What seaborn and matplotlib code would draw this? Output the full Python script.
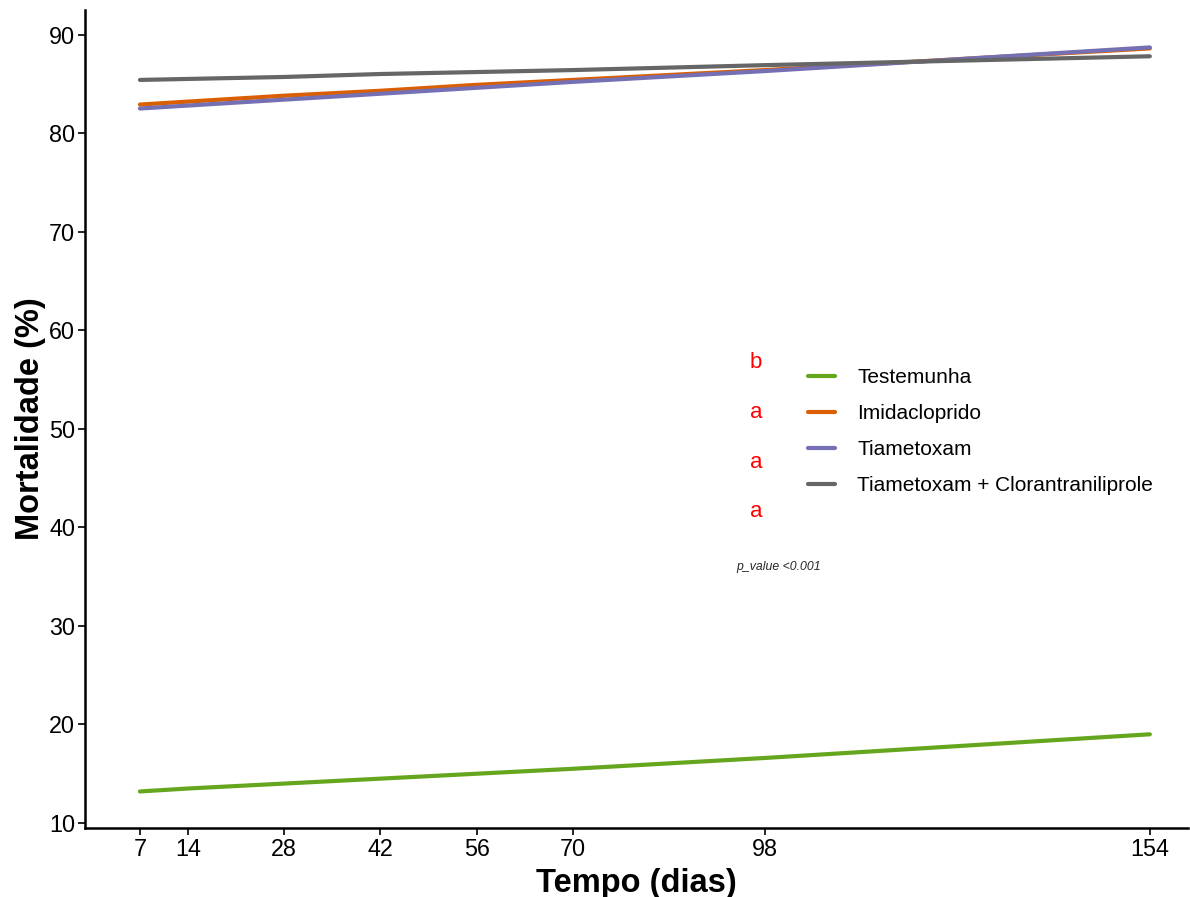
import numpy as np
import pandas as pd
import matplotlib
matplotlib.use("Agg")
import matplotlib.pyplot as plt
import seaborn as sns

# ---- data ----
dias = [7, 14, 28, 42, 56, 70, 98, 154]
tratamentos = ["Testemunha", "Imidacloprido", "Tiametoxam", "Tiametoxam + Clorantraniliprole"]
testemunha = [13.2, 13.5, 14.0, 14.5, 15.0, 15.5, 16.6, 19.0]
imidacloprido = [82.9, 83.2, 83.8, 84.3, 84.9, 85.4, 86.4, 88.6]
tiametoxam = [82.5, 82.8, 83.4, 84.0, 84.6, 85.2, 86.3, 88.7]
tiam_clor = [85.4, 85.5, 85.7, 86.0, 86.2, 86.4, 86.9, 87.8]
letras = ["b", "a", "a", "a"]
letras_y = [56.7, 51.7, 46.6, 41.6]
letras_x = 96.7
p_text = "p_value <0.001"
cores = ["#66A61E", "#D95F02", "#7570B3", "#666666"]
yticks = [10, 20, 30, 40, 50, 60, 70, 80, 90]

series = [testemunha, imidacloprido, tiametoxam, tiam_clor]
df = pd.DataFrame({
    "Tempo": dias * 4,
    "Mortalidade": [v for s in series for v in s],
    "Tratamento": [t for t in tratamentos for _ in dias],
})

sns.set_style("white")
plt.rcParams["font.family"] = ["Liberation Sans", "DejaVu Sans"]

fig = plt.figure(figsize=(11.9, 8.97), dpi=100)
ax = fig.add_axes([0.0714, 0.0769, 0.9266, 0.912])

sns.lineplot(data=df, x="Tempo", y="Mortalidade", hue="Tratamento",
             hue_order=tratamentos, palette=cores, linewidth=3, ax=ax)

ax.set_xlim(-1.0, 159.5)
ax.set_ylim(9.49, 92.5)
ax.set_xticks(dias)
ax.set_xticklabels([str(d) for d in dias])
ax.set_yticks(yticks)
ax.tick_params(axis="both", labelsize=16.8, colors="black", labelcolor="black",
               length=5, width=1.2, direction="out", bottom=True, left=True, pad=2)
for s in ["top", "right"]:
    ax.spines[s].set_visible(False)
for s in ["left", "bottom"]:
    ax.spines[s].set_color("black")
    ax.spines[s].set_linewidth(1.8)

ax.set_xlabel("Tempo (dias)", fontsize=23.5, fontweight="bold", color="black", labelpad=5)
ax.set_ylabel("Mortalidade (%)", fontsize=23.5, fontweight="bold", color="black", labelpad=2)

for l, yy in zip(letras, letras_y):
    ax.text(letras_x, yy, l, color="red", fontsize=16, ha="center", va="center")
ax.text(100, 36, p_text, fontsize=8.8, style="italic", ha="center", va="center")

leg = ax.legend(loc="center left", bbox_to_anchor=(0.6557, 0.4845), frameon=False,
                fontsize=15, handlelength=1.3, handletextpad=1.06, labelspacing=0.82,
                borderpad=0, borderaxespad=0, title=None)
for line in leg.get_lines():
    line.set_linewidth(3)
for t in leg.get_texts():
    t.set_color("black")

fig.savefig("out.png", dpi=100)
